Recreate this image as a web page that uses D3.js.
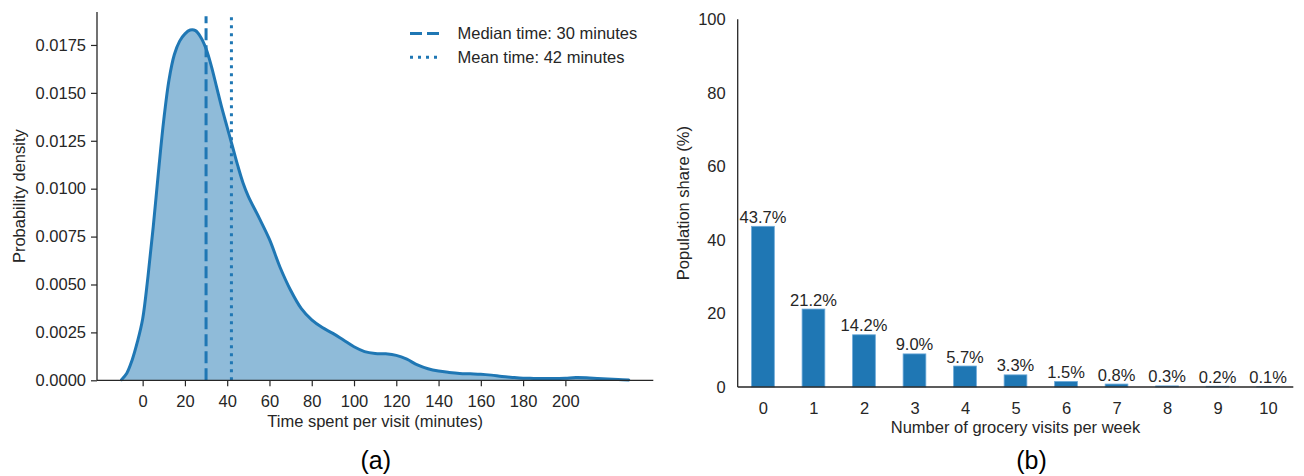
<!DOCTYPE html>
<html>
<head>
<meta charset="utf-8">
<script src="https://cdn.jsdelivr.net/npm/d3@7"></script>
<style>
  html, body { margin: 0; padding: 0; background: #fff; }
  svg { display: block; font-family: "Liberation Sans", Arial, sans-serif; }
</style>
</head>
<body>
<svg id="chart" width="1304" height="476"></svg>
<script>
// ---------- Data: panel (a) KDE of time spent per visit ----------
const kdeMinutes = [-10, -7.5, -5, -2.5, 0, 2.5, 5, 7.5, 10, 12.5, 15, 17.5, 20, 22.5, 25, 27.5, 30, 32.5, 35, 37.5, 40, 42.5, 45, 47.5, 50, 55, 60, 65, 70, 75, 80, 85, 90, 95, 100, 105, 110, 115, 120, 125, 130, 135, 140, 145, 150, 155, 160, 165, 170, 175, 180, 185, 190, 195, 200, 205, 210, 215, 220, 225, 230];
const kdeDensity = [0.00003, 0.00037, 0.00105, 0.0020, 0.0032, 0.0054, 0.0080, 0.0109, 0.0136, 0.0157, 0.0170, 0.0177, 0.01808, 0.01828, 0.01825, 0.0179, 0.0173, 0.0164, 0.0153, 0.0142, 0.0132, 0.0122, 0.0112, 0.0103, 0.0096, 0.0085, 0.00735, 0.0059, 0.0047, 0.00375, 0.00315, 0.00275, 0.00245, 0.0021, 0.00175, 0.0015, 0.0014, 0.00138, 0.0013, 0.0011, 0.0008, 0.0006, 0.00048, 0.00041, 0.00036, 0.00034, 0.00032, 0.00027, 0.0002, 0.00015, 0.00011, 0.0001, 0.00009, 0.00009, 0.00011, 0.00014, 0.00013, 0.0001, 0.00007, 0.00004, 0.000015];
const medianTime = 30;
const meanTime = 42;
const legendLabels = ["Median time: 30 minutes", "Mean time: 42 minutes"];
const xTicksA = [0, 20, 40, 60, 80, 100, 120, 140, 160, 180, 200];
const yTicksA = [0, 0.0025, 0.005, 0.0075, 0.01, 0.0125, 0.015, 0.0175];

// ---------- Data: panel (b) weekly grocery visits ----------
const visitCounts = [0, 1, 2, 3, 4, 5, 6, 7, 8, 9, 10];
const populationShare = [43.7, 21.2, 14.2, 9.0, 5.7, 3.3, 1.5, 0.8, 0.3, 0.2, 0.1];
const yTicksB = [0, 20, 40, 60, 80, 100];

const BLUE = "#1f77b4";
const INK = "#262626";
const FS = 16.5;

const svg = d3.select("#chart");

// ================= Panel (a) =================
const ax = { left: 97, right: 653.3, top: 12, bottom: 380.3 };
const xA = d3.scaleLinear().domain([-21.6, 241.6]).range([ax.left, ax.right]);
const yA = d3.scaleLinear().domain([0, 0.01922]).range([ax.bottom, ax.top]);

const gA = svg.append("g");
const pts = kdeMinutes.map((m, i) => [m, kdeDensity[i]]);

gA.append("path")
  .datum(pts)
  .attr("fill", BLUE)
  .attr("fill-opacity", 0.5)
  .attr("d", d3.area().x(d => xA(d[0])).y0(yA(0)).y1(d => yA(d[1])).curve(d3.curveCatmullRom));

gA.append("path")
  .datum(pts)
  .attr("fill", "none")
  .attr("stroke", BLUE)
  .attr("stroke-width", 3)
  .attr("stroke-linejoin", "round")
  .attr("stroke-linecap", "round")
  .attr("d", d3.line().x(d => xA(d[0])).y(d => yA(d[1])).curve(d3.curveCatmullRom));

// median / mean lines
gA.append("line")
  .attr("x1", xA(medianTime)).attr("x2", xA(medianTime))
  .attr("y1", yA(0)).attr("y2", yA(0.0190))
  .attr("stroke", BLUE).attr("stroke-width", 3)
  .attr("stroke-dasharray", "12,5");
gA.append("line")
  .attr("x1", xA(meanTime)).attr("x2", xA(meanTime))
  .attr("y1", yA(0)).attr("y2", yA(0.0190))
  .attr("stroke", BLUE).attr("stroke-width", 3)
  .attr("stroke-dasharray", "3,5");

// axes
const xAxisA = d3.axisBottom(xA).tickValues(xTicksA).tickSize(6).tickPadding(5).tickFormat(d3.format("d"));
const yAxisA = d3.axisLeft(yA).tickValues(yTicksA).tickSize(6).tickPadding(5).tickFormat(d3.format(".4f"));

const gxA = gA.append("g").attr("transform", `translate(0,${ax.bottom})`).call(xAxisA);
const gyA = gA.append("g").attr("transform", `translate(${ax.left},0)`).call(yAxisA);
[gxA, gyA].forEach(g => {
  g.select(".domain").remove();
  g.selectAll(".tick line").attr("stroke", INK).attr("stroke-width", 1.2);
  g.selectAll(".tick text").attr("fill", INK).attr("font-size", FS).attr("font-family", null);
});
gxA.selectAll(".tick text").attr("dy", "0.95em");
// spines
gA.append("line").attr("x1", ax.left).attr("x2", ax.right).attr("y1", ax.bottom).attr("y2", ax.bottom)
  .attr("stroke", INK).attr("stroke-width", 1.3);
gA.append("line").attr("x1", ax.left).attr("x2", ax.left).attr("y1", ax.top).attr("y2", ax.bottom)
  .attr("stroke", INK).attr("stroke-width", 1.3);

// axis labels
gA.append("text").attr("x", (ax.left + ax.right) / 2).attr("y", 426.5)
  .attr("text-anchor", "middle").attr("font-size", FS).attr("fill", INK)
  .text("Time spent per visit (minutes)");
gA.append("text").attr("transform", `translate(19,${(ax.top + ax.bottom) / 2}) rotate(-90)`)
  .attr("dy", "0.35em").attr("text-anchor", "middle").attr("font-size", FS).attr("fill", INK)
  .text("Probability density");

// legend
const legY = [33.5, 57.3];
const legDash = ["12,5", "3,5"];
legendLabels.forEach((lab, i) => {
  gA.append("line").attr("x1", 410).attr("x2", 441).attr("y1", legY[i]).attr("y2", legY[i])
    .attr("stroke", BLUE).attr("stroke-width", 3).attr("stroke-dasharray", legDash[i]);
  gA.append("text").attr("x", 457.5).attr("y", legY[i]).attr("dy", "0.35em")
    .attr("font-size", FS).attr("fill", INK).text(lab);
});

// panel tag
svg.append("text").attr("x", 375.8).attr("y", 468.5).attr("text-anchor", "middle")
  .attr("font-size", 25).attr("fill", "#000").text("(a)");

// ================= Panel (b) =================
const bx = { left: 737.7, right: 1293.3, top: 19.3, bottom: 387 };
const xB = d3.scaleLinear().domain([-0.5, 10.5]).range([bx.left, bx.right]);
const yB = d3.scaleLinear().domain([0, 100]).range([bx.bottom, bx.top]);
const barW = 0.45;

const gB = svg.append("g");
gB.selectAll("rect.bar").data(visitCounts).enter().append("rect")
  .attr("class", "bar")
  .attr("x", d => xB(d - barW / 2))
  .attr("width", xB(barW) - xB(0))
  .attr("y", (d, i) => yB(populationShare[i]))
  .attr("height", (d, i) => yB(0) - yB(populationShare[i]))
  .attr("fill", BLUE)
  .attr("stroke", "#6aa8d8").attr("stroke-width", 0.8);

gB.selectAll("text.lab").data(visitCounts).enter().append("text")
  .attr("class", "lab")
  .attr("x", d => xB(d))
  .attr("y", (d, i) => yB(populationShare[i]) - 3.5)
  .attr("text-anchor", "middle").attr("font-size", FS).attr("fill", INK)
  .text((d, i) => populationShare[i].toFixed(1) + "%");

const xAxisB = d3.axisBottom(xB).tickValues(visitCounts).tickSize(0).tickPadding(11).tickFormat(d3.format("d"));
const yAxisB = d3.axisLeft(yB).tickValues(yTicksB).tickSize(0).tickPadding(12).tickFormat(d3.format("d"));
const gxB = gB.append("g").attr("transform", `translate(0,${bx.bottom})`).call(xAxisB);
const gyB = gB.append("g").attr("transform", `translate(${bx.left},0)`).call(yAxisB);
[gxB, gyB].forEach(g => {
  g.select(".domain").remove();
  g.selectAll(".tick text").attr("fill", INK).attr("font-size", FS).attr("font-family", null);
});
gxB.selectAll(".tick text").attr("dy", "0.95em");

gB.append("line").attr("x1", bx.left).attr("x2", bx.right).attr("y1", bx.bottom).attr("y2", bx.bottom)
  .attr("stroke", INK).attr("stroke-width", 1.3);
gB.append("line").attr("x1", bx.left).attr("x2", bx.left).attr("y1", bx.top).attr("y2", bx.bottom)
  .attr("stroke", INK).attr("stroke-width", 1.3);

gB.append("text").attr("x", (bx.left + bx.right) / 2).attr("y", 432.5)
  .attr("text-anchor", "middle").attr("font-size", FS).attr("fill", INK)
  .text("Number of grocery visits per week");
gB.append("text").attr("transform", `translate(683.3,${(bx.top + bx.bottom) / 2}) rotate(-90)`)
  .attr("dy", "0.35em").attr("text-anchor", "middle").attr("font-size", FS).attr("fill", INK)
  .text("Population share (%)");

svg.append("text").attr("x", 1031.5).attr("y", 468.5).attr("text-anchor", "middle")
  .attr("font-size", 25).attr("fill", "#000").text("(b)");
</script>
</body>
</html>
